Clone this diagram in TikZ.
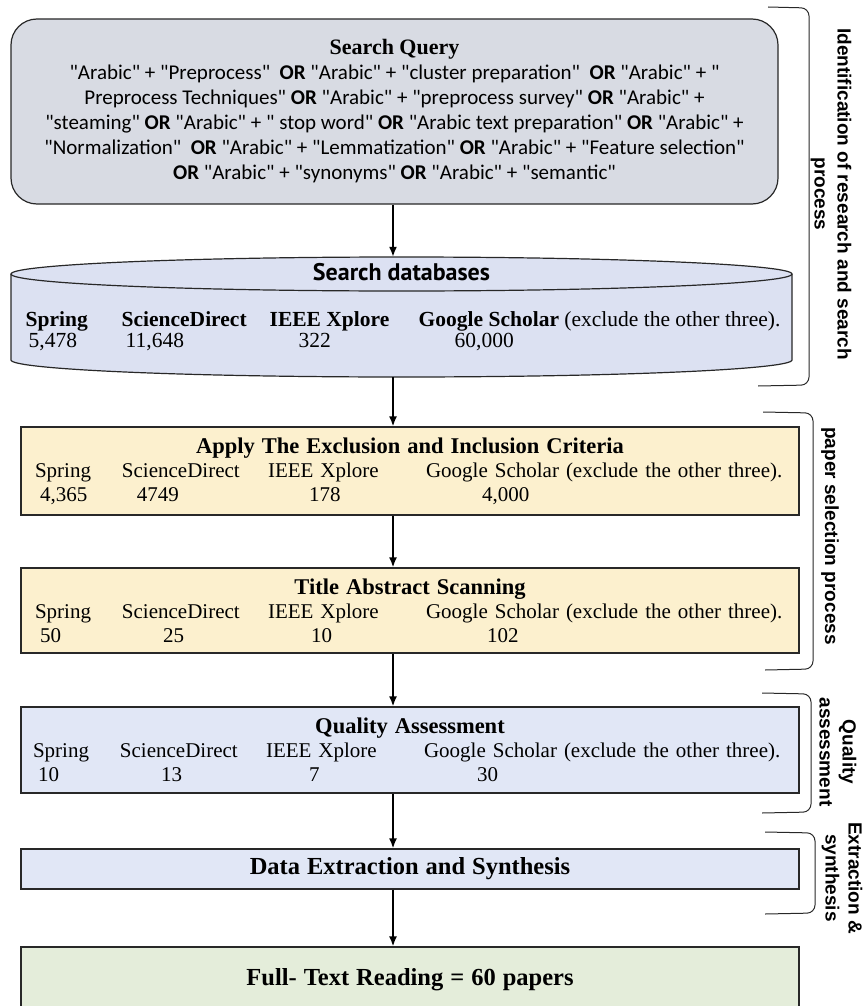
\documentclass[tikz,border=0pt]{standalone}
\usepackage{fontspec}
\setmainfont{Liberation Serif}
\newfontfamily\queryfont{Carlito}
\newfontfamily\dbfont{PT Sans}
\newfontfamily\sidefont{Liberation Sans}
\usetikzlibrary{arrows.meta}

\definecolor{querygray}{RGB}{216,219,227}
\definecolor{dbblue}{RGB}{220,225,242}
\definecolor{selcream}{RGB}{252,240,206}
\definecolor{qualblue}{RGB}{225,231,246}
\definecolor{fullgreen}{RGB}{228,237,218}
\definecolor{edgegray}{RGB}{40,40,40}

% text placed at a fixed offset from the start of the line
\newcommand{\colat}[2]{\makebox[0pt][l]{\hspace*{#1pt}#2}}
\newcommand{\stagetitle}[1]{\makebox[750pt]{\fontsize{22.5}{24}\selectfont\bfseries #1}}

\tikzset{
  stagebox/.style={draw=edgegray, line width=1.3pt, minimum width=778pt, text width=750pt,
    inner xsep=14pt, inner ysep=0pt, align=left, font=\fontsize{21}{24}\selectfont},
  flow/.style={->, line width=1.6pt},
  bracket/.style={draw=edgegray, line width=1pt, rounded corners=8pt},
  sidelabel/.style={rotate=-90, align=center, font=\sidefont\bfseries\fontsize{19}{23}\selectfont}
}

\begin{document}
\begin{tikzpicture}[x=1pt, y=-1pt, >={Latex[length=10pt,width=8pt]}]
	\useasboundingbox (0,0) rectangle (865,1006);
	\clip (0,0) rectangle (865,1006);
	
	\node[draw=edgegray, line width=1.2pt, fill=querygray, rounded corners=26pt, minimum width=767pt,
	  minimum height=185pt, align=center, font=\queryfont\fontsize{21}{25}\selectfont] (query) at (394.5,111.5)
	  {{\rmfamily\bfseries\fontsize{22}{25}\selectfont Search Query}\\
	  "Arabic" + "Preprocess"\ \ \textbf{OR} "Arabic" + "cluster preparation"\ \ \textbf{OR} "Arabic" + "\\
	  Preprocess Techniques" \textbf{OR} "Arabic" + "preprocess survey" \textbf{OR} "Arabic" +\\
	  "steaming" \textbf{OR} "Arabic" + " stop word" \textbf{OR} "Arabic text preparation" \textbf{OR} "Arabic" +\\
	  "Normalization"\ \ \textbf{OR} "Arabic" + "Lemmatization" \textbf{OR} "Arabic" + "Feature selection"\\
	  \textbf{OR} "Arabic" + "synonyms" \textbf{OR} "Arabic" + "semantic"};
	
	% database cylinder
	\node[minimum width=781pt, minimum height=120pt, inner sep=0pt] (db) at (401.5,317) {};
	\draw[draw=edgegray, line width=1.2pt, fill=dbblue] (11,274) -- (11,360)
	  arc[start angle=180, end angle=0, x radius=390.5, y radius=17] -- (792,274)
	  arc[start angle=0, end angle=-180, x radius=390.5, y radius=17] -- cycle;
	\draw[edgegray, line width=1.2pt] (11,274) arc[start angle=180, end angle=0, x radius=390.5, y radius=17];
	\node[font=\dbfont\bfseries\fontsize{24}{26}\selectfont] (dbtitle) at (401.5,272) {Search databases};
	\node[anchor=west, align=left, inner sep=0pt, font=\fontsize{21.5}{20.5}\selectfont] (dbcounts) at (25,331)
	  {\colat{0}{\textbf{Spring}}\colat{96}{\textbf{ScienceDirect}}\colat{244}{\textbf{IEEE Xplore}}\colat{393}{\textbf{Google Scholar} (exclude the other three).}\\
	  \colat{3}{5,478}\colat{100}{11,648}\colat{273}{322}\colat{429}{60,000}};
	
	\node[stagebox, fill=selcream, minimum height=88pt] (apply) at (410,471)
	  {\stagetitle{Apply The Exclusion and Inclusion Criteria}\\
	  \colat{0}{Spring}\colat{87}{ScienceDirect}\colat{233}{IEEE Xplore}\colat{391}{Google Scholar (exclude the other three).}\\
	  \colat{5}{4,365}\colat{102}{4749}\colat{274}{178}\colat{447}{4,000}};
	\node[stagebox, fill=selcream, minimum height=85pt] (scan) at (410,610.5)
	  {\stagetitle{Title Abstract Scanning}\\
	  \colat{0}{Spring}\colat{87}{ScienceDirect}\colat{233}{IEEE Xplore}\colat{391}{Google Scholar (exclude the other three).}\\
	  \colat{5}{50}\colat{128}{25}\colat{276}{10}\colat{452}{102}};
	\node[stagebox, fill=qualblue, minimum height=86pt] (quality) at (410,750)
	  {\stagetitle{Quality Assessment}\\
	  \colat{-2}{Spring}\colat{85}{ScienceDirect}\colat{231}{IEEE Xplore}\colat{389}{Google Scholar (exclude the other three).}\\
	  \colat{3}{10}\colat{126}{13}\colat{274}{7}\colat{442}{30}};
	\node[stagebox, fill=qualblue, minimum height=40pt] (extract) at (410,869)
	  {\makebox[750pt]{\fontsize{24.5}{28}\selectfont\bfseries Data Extraction and Synthesis}};
	\node[stagebox, fill=fullgreen, minimum height=65pt] (fulltext) at (410,979.5)
	  {\makebox[750pt]{\fontsize{24.5}{28}\selectfont\bfseries Full- Text Reading = 60 papers}};
	
	\coordinate (spine) at (393,0);
	\draw[flow] (query.south -| spine) -- (db.north -| spine);
	\draw[flow] (db.south -| spine) -- (apply.north -| spine);
	\draw[flow] (apply.south -| spine) -- (scan.north -| spine);
	\draw[flow] (scan.south -| spine) -- (quality.north -| spine);
	\draw[flow] (quality.south -| spine) -- (extract.north -| spine);
	\draw[flow] (extract.south -| spine) -- (fulltext.north -| spine);
	
	% stage brackets
	\draw[bracket] (768,7) -- (809,8) -- (809,385) -- (758,386);
	\draw[bracket] (763,412) -- (813,413) -- (813,669) -- (765,670);
	\draw[bracket] (762,693) -- (811,694) -- (811,812) -- (762,813);
	\draw[bracket] (765,832) -- (815,833) -- (815,913) -- (765,914);
	\node[sidelabel] (lblsearch) at (831,194) {Identification of research and search\\process};
	\node[sidelabel] (lblselect) at (830,536) {paper selection process};
	\node[sidelabel] (lblquality) at (838,752) {Quality\\assessment};
	\node[sidelabel] (lblextract) at (842,878) {Extraction \&\\synthesis};
\end{tikzpicture}
\end{document}
